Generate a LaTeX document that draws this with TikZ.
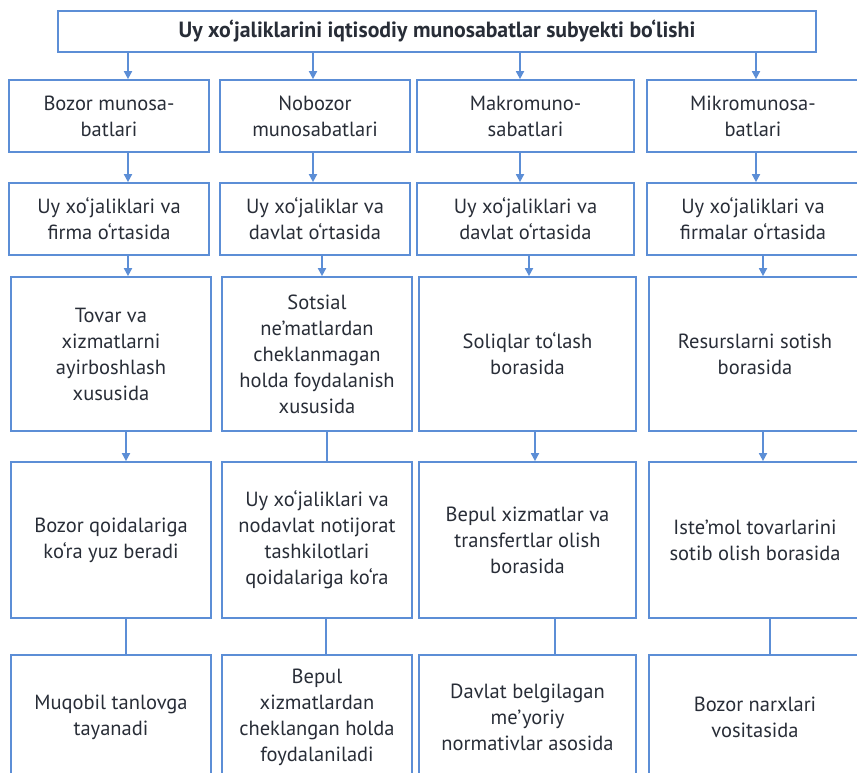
\documentclass[tikz,border=0pt]{standalone}
\usepackage{fontspec}
\setmainfont{PT Sans}
\usetikzlibrary{arrows.meta}
\definecolor{lineblue}{RGB}{92,142,214}
\definecolor{txt}{RGB}{40,45,55}
\tikzset{
  box/.style={draw=lineblue, line width=1.7pt, align=center, inner sep=0pt, text=txt,
    font=\fontsize{20.5}{26}\selectfont},
  arr/.style={draw=lineblue, line width=1.7pt, -{Triangle[width=8pt,length=8pt]}},
  plain/.style={draw=lineblue, line width=1.7pt}
}
\begin{document}
\begin{tikzpicture}[x=1pt,y=-1pt]
\useasboundingbox (0,0) rectangle (857,773);
% top
\node[box, minimum width=758pt, minimum height=41pt, font=\fontsize{22}{26}\selectfont\bfseries] (top) at (437,31.5)
  {\scalebox{0.99}[1]{Uy xo‘jaliklarini iqtisodiy munosabatlar subyekti bo‘lishi}};
% row 1
\node[box, minimum width=200pt, minimum height=72pt] (r1c1) at (109,116) {Bozor munosa-\\batlari};
\node[box, minimum width=190pt, minimum height=72pt] (r1c2) at (315,116) {Nobozor\\munosabatlari};
\node[box, minimum width=217pt, minimum height=72pt] (r1c3) at (525.5,116) {Makromuno-\\sabatlari};
\node[box, minimum width=212pt, minimum height=72pt] (r1c4) at (753,116) {Mikromunosa-\\batlari};
% row 2
\node[box, minimum width=200pt, minimum height=72pt] (r2c1) at (109,219) {Uy xo‘jaliklari va\\firma o‘rtasida};
\node[box, minimum width=190pt, minimum height=72pt] (r2c2) at (315,219) {Uy xo‘jaliklar va\\davlat o‘rtasida};
\node[box, minimum width=217pt, minimum height=72pt] (r2c3) at (525.5,219) {Uy xo‘jaliklari va\\davlat o‘rtasida};
\node[box, minimum width=212pt, minimum height=72pt] (r2c4) at (753,219) {Uy xo‘jaliklari va\\firmalar o‘rtasida};
% row 3
\node[box, minimum width=200pt, minimum height=154pt] (r3c1) at (111,354) {Tovar va\\xizmatlarni\\ayirboshlash\\xususida};
\node[box, minimum width=190pt, minimum height=154pt] (r3c2) at (317,354) {Sotsial\\ne’matlardan\\cheklanmagan\\holda foydalanish\\xususida};
\node[box, minimum width=217pt, minimum height=154pt] (r3c3) at (527.5,354) {Soliqlar to‘lash\\borasida};
\node[box, minimum width=212pt, minimum height=154pt] (r3c4) at (755,354) {Resurslarni sotish\\borasida};
% row 4
\node[box, minimum width=200pt, minimum height=156pt] (r4c1) at (111,540) {Bozor qoidalariga\\ko‘ra yuz beradi};
\node[box, minimum width=190pt, minimum height=156pt] (r4c2) at (317,540) {Uy xo‘jaliklari va\\nodavlat notijorat\\tashkilotlari\\qoidalariga ko‘ra};
\node[box, minimum width=217pt, minimum height=156pt] (r4c3) at (527.5,540) {Bepul xizmatlar va\\transfertlar olish\\borasida};
\node[box, minimum width=212pt, minimum height=156pt] (r4c4) at (755,540) {Iste’mol tovarlarini\\sotib olish borasida};
% row 5
\node[box, minimum width=200pt, minimum height=125pt] (r5c1) at (111,717.5) {Muqobil tanlovga\\tayanadi};
\node[box, minimum width=190pt, minimum height=125pt] (r5c2) at (317,717.5) {Bepul\\xizmatlardan\\cheklangan holda\\foydalaniladi};
\node[box, minimum width=217pt, minimum height=125pt] (r5c3) at (527.5,717.5) {Davlat belgilagan\\me’yoriy\\normativlar asosida};
\node[box, minimum width=212pt, minimum height=125pt] (r5c4) at (755,717.5) {Bozor narxlari\\vositasida};
% connector x positions
\coordinate (a1) at (128,0); \coordinate (a2) at (313,0); \coordinate (a3) at (520,0); \coordinate (a4) at (756,0);
\coordinate (b1) at (128,0); \coordinate (b2) at (322,0); \coordinate (b3) at (529,0); \coordinate (b4) at (763,0);
\coordinate (c1) at (126,0); \coordinate (c2) at (327,0); \coordinate (c3) at (535,0); \coordinate (c4) at (763,0);
\coordinate (d1) at (126,0); \coordinate (d2) at (326,0); \coordinate (d3) at (555,0); \coordinate (d4) at (770,0);
\foreach \i in {1,2,3,4} {
  \draw[arr] (top.south -| a\i) -- (r1c\i.north -| a\i);
  \draw[arr] (r1c\i.south -| a\i) -- (r2c\i.north -| a\i);
  \draw[arr] (r2c\i.south -| b\i) -- (r3c\i.north -| b\i);
  \draw[plain] (r4c\i.south -| d\i) -- (r5c\i.north -| d\i);
}
\draw[arr] (r3c1.south -| c1) -- (r4c1.north -| c1);
\draw[plain] (r3c2.south -| c2) -- (r4c2.north -| c2);
\draw[arr] (r3c3.south -| c3) -- (r4c3.north -| c3);
\draw[arr] (r3c4.south -| c4) -- (r4c4.north -| c4);
\end{tikzpicture}
\end{document}
